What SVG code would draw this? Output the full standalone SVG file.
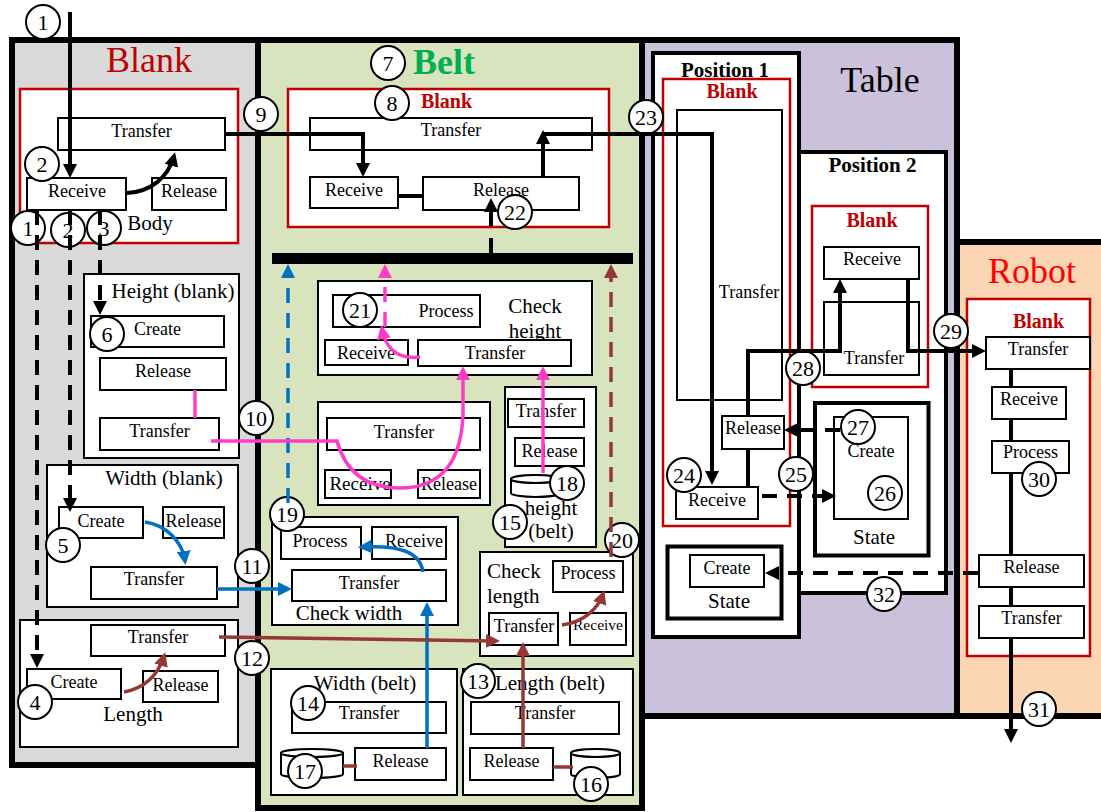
<svg xmlns="http://www.w3.org/2000/svg" width="1101" height="812" viewBox="0 0 1101 812">
<style>
text{font-family:"Liberation Serif","Times New Roman",serif;fill:#000;text-anchor:middle}
.b{fill:#fff;stroke:#000;stroke-width:2}
.bb{fill:#fff;stroke:#000;stroke-width:4}
.rd{fill:#fff;stroke:#c00000;stroke-width:2.5}
.t{font-size:18px}
.l{font-size:21px}
.h{font-size:36px}
.rb{font-size:20px;font-weight:bold;fill:#c00000}
.pos{font-size:21px;font-weight:bold}
.n circle{fill:#fff;stroke:#000;stroke-width:2}
.n text{font-size:22px}
.k{fill:none;stroke:#000;stroke-width:4}
.d{stroke-dasharray:15 10}
.bl{fill:none;stroke:#0070c0;stroke-width:3.5}
.pk{fill:none;stroke:#ff3cc8;stroke-width:3.5}
.br{fill:none;stroke:#953735;stroke-width:3.5}
.cont{stroke:#000;stroke-width:6}
</style>
<defs>
<marker id="mk" markerUnits="userSpaceOnUse" viewBox="0 0 14 14" markerWidth="14" markerHeight="14" refX="10" refY="7" orient="auto"><path d="M0,0L14,7L0,14z" fill="#000"/></marker>
<marker id="mb" markerUnits="userSpaceOnUse" viewBox="0 0 14 14" markerWidth="14" markerHeight="14" refX="10" refY="7" orient="auto"><path d="M0,0L14,7L0,14z" fill="#0070c0"/></marker>
<marker id="mp" markerUnits="userSpaceOnUse" viewBox="0 0 14 14" markerWidth="14" markerHeight="14" refX="10" refY="7" orient="auto"><path d="M0,0L14,7L0,14z" fill="#ff3cc8"/></marker>
<marker id="mr" markerUnits="userSpaceOnUse" viewBox="0 0 14 14" markerWidth="14" markerHeight="14" refX="10" refY="7" orient="auto"><path d="M0,0L14,7L0,14z" fill="#953735"/></marker>
</defs>
<rect x="0" y="0" width="1101" height="812" fill="#fff"/>

<g id="blank-container">
<rect class="cont" x="12" y="40" width="246" height="725" fill="#d9d9d9"/>
<text class="h" x="149" y="72" style="fill:#c00000">Blank</text>
</g>
<g id="belt-container">
<rect class="cont" x="258" y="40" width="384" height="768" fill="#d7e4bd"/>
<text class="h" x="444" y="74" style="fill:#00b050;font-weight:bold">Belt</text>
</g>
<g id="table-container">
<rect class="cont" x="642" y="40" width="315" height="676" fill="#ccc1da"/>
<text class="h" x="880" y="92">Table</text>
</g>
<g id="robot-container">
<rect class="cont" x="957" y="242" width="150" height="474" fill="#fcd5b5"/>
<text class="h" x="1032" y="283" style="fill:#ff0000">Robot</text>
</g>

<g id="body">
<rect class="rd" x="20" y="89" width="218" height="154"/>
<rect class="b" x="58" y="118" width="167" height="32"/><text class="t" x="141.5" y="137">Transfer</text>
<rect class="b" x="27" y="178" width="99" height="32"/><text class="t" x="77" y="197">Receive</text>
<rect class="b" x="152" y="178" width="74" height="32"/><text class="t" x="189" y="197">Release</text>
<text class="l" x="150" y="230">Body</text>
</g>

<g id="height-blank">
<rect class="b" x="84" y="274" width="155" height="184"/>
<text class="l" x="173" y="298">Height (blank)</text>
<rect class="b" x="91" y="316" width="133" height="31"/><text class="t" x="157.5" y="335">Create</text>
<rect class="b" x="100" y="358" width="126" height="32"/><text class="t" x="163" y="377">Release</text>
<rect class="b" x="100" y="418" width="119" height="32"/><text class="t" x="159.5" y="437">Transfer</text>
</g>

<g id="width-blank">
<rect class="b" x="47" y="465" width="191" height="142"/>
<text class="l" x="164" y="485">Width (blank)</text>
<rect class="b" x="59" y="507" width="84" height="31"/><text class="t" x="101" y="527">Create</text>
<rect class="b" x="163" y="507" width="61" height="31"/><text class="t" x="193.5" y="527">Release</text>
<rect class="b" x="91" y="567" width="126" height="32"/><text class="t" x="154" y="585">Transfer</text>
</g>

<g id="length-blank">
<rect class="b" x="20" y="620" width="218" height="127"/>
<rect class="b" x="91" y="625" width="134" height="31"/><text class="t" x="158" y="643">Transfer</text>
<rect class="b" x="27" y="669" width="94" height="30"/><text class="t" x="74" y="688">Create</text>
<rect class="b" x="143" y="671" width="75" height="31"/><text class="t" x="180.5" y="691">Release</text>
<text class="l" x="133" y="721">Length</text>
</g>

<g id="belt-blank">
<rect class="rd" x="288" y="89" width="321" height="138"/>
<text class="rb" x="446.5" y="108">Blank</text>
<rect class="b" x="310" y="118" width="282" height="32"/><text class="t" x="451" y="136">Transfer</text>
<rect class="b" x="310" y="177" width="88" height="31"/><text class="t" x="354" y="196">Receive</text>
<rect class="b" x="423" y="177" width="156" height="33"/><text class="t" x="501" y="196">Release</text>
</g>

<g id="bar"><rect x="272" y="253" width="361" height="11" fill="#000"/></g>

<g id="check-height">
<rect class="b" x="318" y="281" width="274" height="94"/>
<rect class="b" x="333" y="295" width="147" height="32"/><text class="t" x="446" y="317">Process</text>
<text class="l" x="535" y="313">Check</text>
<text class="l" x="535" y="338">height</text>
<rect class="b" x="325" y="340" width="83" height="25"/><text class="t" x="366" y="359">Receive</text>
<rect class="b" x="418" y="340" width="153" height="26"/><text class="t" x="495" y="359">Transfer</text>
</g>

<g id="belt-height-transfer">
<rect class="b" x="318" y="402" width="172" height="103"/>
<rect class="b" x="327" y="418" width="153" height="32"/><text class="t" x="404" y="438">Transfer</text>
<rect class="b" x="325" y="470" width="66" height="28"/><text class="t" x="360" y="490" style="font-size:19px">Receive</text>
<rect class="b" x="418" y="470" width="62" height="28"/><text class="t" x="449" y="490">Release</text>
</g>

<g id="height-belt">
<rect class="b" x="505" y="387" width="91" height="160"/>
<rect class="b" x="508" y="399" width="76" height="28"/><text class="t" x="546" y="417">Transfer</text>
<rect class="b" x="515" y="438" width="69" height="28"/><text class="t" x="549.5" y="457">Release</text>
<path class="b" d="M511,479 V493 A24.5,4 0 0 0 560,493 V479 Z"/><ellipse class="b" cx="535.5" cy="479" rx="24.5" ry="4"/>
<text class="l" x="551" y="515">height</text>
<text class="l" x="551" y="538">(belt)</text>
</g>

<g id="check-width">
<rect class="b" x="272" y="517" width="186" height="108"/>
<rect class="b" x="281" y="527" width="80" height="32"/><text class="t" x="320" y="547">Process</text>
<rect class="b" x="372" y="527" width="74" height="32"/><text class="t" x="414" y="547">Receive</text>
<rect class="b" x="292" y="570" width="154" height="31"/><text class="t" x="369" y="589">Transfer</text>
<text class="l" x="349" y="620">Check width</text>
</g>

<g id="check-length">
<rect class="b" x="480" y="552" width="153" height="104"/>
<text class="l" x="487" y="578" style="text-anchor:start">Check</text>
<text class="l" x="487" y="603" style="text-anchor:start">length</text>
<rect class="b" x="553" y="561" width="70" height="31"/><text class="t" x="588" y="579">Process</text>
<rect class="b" x="489" y="613" width="69" height="32"/><text class="t" x="524" y="632">Transfer</text>
<rect class="b" x="570" y="613" width="56" height="32"/><text class="t" x="598" y="630" style="font-size:15.5px">Receive</text>
</g>

<g id="width-belt">
<rect class="b" x="271" y="669" width="186" height="126"/>
<text class="l" x="365" y="690">Width (belt)</text>
<rect class="b" x="292" y="702" width="154" height="31"/><text class="t" x="369" y="719">Transfer</text>
<path class="b" d="M281,753 V774 A31,4 0 0 0 343,774 V753 Z"/><ellipse class="b" cx="312" cy="753" rx="31" ry="4"/>
<rect class="b" x="355" y="748" width="91" height="32"/><text class="t" x="400.5" y="767">Release</text>
</g>

<g id="length-belt">
<rect class="b" x="463" y="669" width="170" height="126"/>
<text class="l" x="550" y="690">Length (belt)</text>
<rect class="b" x="471" y="702" width="148" height="32"/><text class="t" x="545" y="719">Transfer</text>
<rect class="b" x="470" y="748" width="83" height="32"/><text class="t" x="511.5" y="767">Release</text>
<path class="b" d="M571,753 V774 A24.5,4 0 0 0 620,774 V753 Z"/><ellipse class="b" cx="595.5" cy="753" rx="24.5" ry="4"/>
</g>

<g id="position1">
<rect class="bb" x="653" y="53" width="146" height="584"/>
<text class="pos" x="725" y="77">Position 1</text>
<rect class="rd" x="663" y="79" width="127" height="447"/>
<text class="rb" x="732" y="98">Blank</text>
<rect class="b" x="677" y="110" width="105" height="290"/><text class="t" x="749" y="298">Transfer</text>
<rect class="b" x="722" y="416" width="62" height="33"/><text class="t" x="753" y="434">Release</text>
<rect class="b" x="676" y="487" width="82" height="32"/><text class="t" x="717" y="506">Receive</text>
</g>

<g id="p1-state">
<rect class="bb" x="667.5" y="546.5" width="114" height="72"/>
<rect class="b" x="690" y="555" width="74" height="32"/><text class="t" x="727" y="574">Create</text>
<text class="l" x="729" y="608">State</text>
</g>

<g id="position2">
<rect class="bb" x="799" y="152" width="147" height="441"/>
<text class="pos" x="872.5" y="172">Position 2</text>
<rect class="rd" x="812" y="206" width="116" height="181"/>
<text class="rb" x="872" y="227">Blank</text>
<rect class="b" x="824" y="247" width="95" height="32"/><text class="t" x="872" y="265">Receive</text>
<rect class="b" x="824" y="302" width="95" height="73"/><text class="t" x="874" y="364">Transfer</text>
</g>

<g id="p2-state">
<rect class="bb" x="815" y="403" width="113.5" height="152.5"/>
<rect class="b" x="834" y="417" width="74" height="102"/><text class="t" x="871" y="457">Create</text>
<text class="l" x="874" y="544">State</text>
</g>

<g id="robot-blank">
<rect class="rd" x="967" y="299" width="123" height="357"/>
<text class="rb" x="1038.5" y="328">Blank</text>
<rect class="b" x="986" y="337" width="104" height="32"/><text class="t" x="1038" y="355">Transfer</text>
<rect class="b" x="992" y="387" width="74" height="32"/><text class="t" x="1029" y="405">Receive</text>
<rect class="b" x="992" y="441" width="77" height="32"/><text class="t" x="1030.5" y="458">Process</text>
<rect class="b" x="979" y="555" width="105" height="32"/><text class="t" x="1031.5" y="573">Release</text>
<rect class="b" x="979" y="606" width="105" height="32"/><text class="t" x="1031.5" y="624">Transfer</text>
</g>

<g id="labels" class="n">
<circle cx="43" cy="22" r="17"/><text x="43" y="30">1</text>
<circle cx="42" cy="164" r="17"/><text x="42" y="172">2</text>
<circle cx="28" cy="228" r="17"/><text x="28" y="236">1</text>
<circle cx="68" cy="230" r="17"/><text x="68" y="238">2</text>
<circle cx="104" cy="228" r="17"/><text x="104" y="236">3</text>
<circle cx="35" cy="702" r="17"/><text x="35" y="710">4</text>
<circle cx="63" cy="545" r="17"/><text x="63" y="553">5</text>
<circle cx="107" cy="334" r="17"/><text x="107" y="342">6</text>
<circle cx="388" cy="63" r="17"/><text x="388" y="71">7</text>
<circle cx="392" cy="103" r="17"/><text x="392" y="111">8</text>
<circle cx="261" cy="114" r="17"/><text x="261" y="122">9</text>
<circle cx="256" cy="418" r="17"/><text x="256" y="426">10</text>
<circle cx="252" cy="566" r="17"/><text x="252" y="574">11</text>
<circle cx="252" cy="658" r="17"/><text x="252" y="666">12</text>
<circle cx="478" cy="681" r="17"/><text x="478" y="689">13</text>
<circle cx="308" cy="703" r="17"/><text x="308" y="711">14</text>
<circle cx="510" cy="522" r="17"/><text x="510" y="530">15</text>
<circle cx="591" cy="784" r="17"/><text x="591" y="792">16</text>
<circle cx="305" cy="771" r="17"/><text x="305" y="779">17</text>
<circle cx="567" cy="483" r="17"/><text x="567" y="491">18</text>
<circle cx="287" cy="514" r="17"/><text x="287" y="522">19</text>
<circle cx="622" cy="540" r="17"/><text x="622" y="548">20</text>
<circle cx="360" cy="310" r="17"/><text x="360" y="318">21</text>
<circle cx="515" cy="212" r="17"/><text x="515" y="220">22</text>
<circle cx="646" cy="117" r="17"/><text x="646" y="125">23</text>
<circle cx="684" cy="475" r="17"/><text x="684" y="483">24</text>
<circle cx="796" cy="474" r="17"/><text x="796" y="482">25</text>
<circle cx="885" cy="493" r="17"/><text x="885" y="501">26</text>
<circle cx="858" cy="427" r="17"/><text x="858" y="435">27</text>
<circle cx="803" cy="368" r="17"/><text x="803" y="376">28</text>
<circle cx="951" cy="331" r="17"/><text x="951" y="339">29</text>
<circle cx="1039" cy="479" r="17"/><text x="1039" y="487">30</text>
<circle cx="1039" cy="709" r="17"/><text x="1039" y="717">31</text>
<circle cx="884" cy="594" r="17"/><text x="884" y="602">32</text>
</g>

<g id="connectors">
<path class="k" d="M70,12 V174" marker-end="url(#mk)"/>
<path class="k" d="M127,193 C150,192 168,178 174,156" marker-end="url(#mk)"/>
<path class="k" d="M225,134 H363 V173" marker-end="url(#mk)"/>
<path class="k" d="M398,196 H423"/>
<path class="k" d="M491,238 V253"/>
<path class="k" d="M491,226 V202" marker-end="url(#mk)"/>
<path class="k" d="M543,177 V134" marker-end="url(#mk)"/>
<path class="k" d="M543,134 H712 V481" marker-end="url(#mk)"/>
<path class="k" d="M748,449 V487"/>
<path class="k" d="M748,416 V351 H840 V283" marker-end="url(#mk)"/>
<path class="k" d="M908,279 V351 H982" marker-end="url(#mk)"/>
<path class="k" d="M1011,369 V387 M1011,419 V441 M1011,473 V555 M1011,587 V606"/>
<path class="k" d="M1011,638 V739" marker-end="url(#mk)"/>
<path class="k d" d="M37,210 V664" marker-end="url(#mk)"/>
<path class="k d" d="M70,210 V508" marker-end="url(#mk)"/>
<path class="k d" d="M100,210 V311" marker-end="url(#mk)"/>
<path class="k d" d="M762,496 H832" marker-end="url(#mk)"/>
<path class="k d" d="M840,430 H788" marker-end="url(#mk)"/>
<path class="k d" d="M978,573 H769" marker-end="url(#mk)"/>
<path class="bl d" d="M288,503 V268" marker-end="url(#mb)"/>
<path class="bl" d="M145,522 C165,525 182,540 185,561" marker-end="url(#mb)"/>
<path class="bl" d="M217,589 H288" marker-end="url(#mb)"/>
<path class="bl" d="M423,572 C420,552 400,545 362,547" marker-end="url(#mb)"/>
<path class="bl" d="M427,748 V606" marker-end="url(#mb)"/>
<path class="pk" d="M195,390 V418"/>
<path class="pk" d="M211,441 H337 Q350,488 400,488 Q460,488 463,415 V370" marker-end="url(#mp)"/>
<path class="pk" d="M543,473 V370" marker-end="url(#mp)"/>
<path class="pk" d="M420,357 C395,360 385,345 382,329" marker-end="url(#mp)"/>
<path class="pk d" d="M385,327 V268" marker-end="url(#mp)"/>
<path class="br" d="M124,692 C145,688 158,675 164,656" marker-end="url(#mr)"/>
<path class="br" d="M219,637 L496,641" marker-end="url(#mr)"/>
<path class="br" d="M343,766 H357"/>
<path class="br" d="M553,767 H573"/>
<path class="br" d="M523,748 V646" marker-end="url(#mr)"/>
<path class="br" d="M562,625 C585,622 598,608 603,594" marker-end="url(#mr)"/>
<path class="br d" d="M611,557 V268" marker-end="url(#mr)"/>
</g>
</svg>
